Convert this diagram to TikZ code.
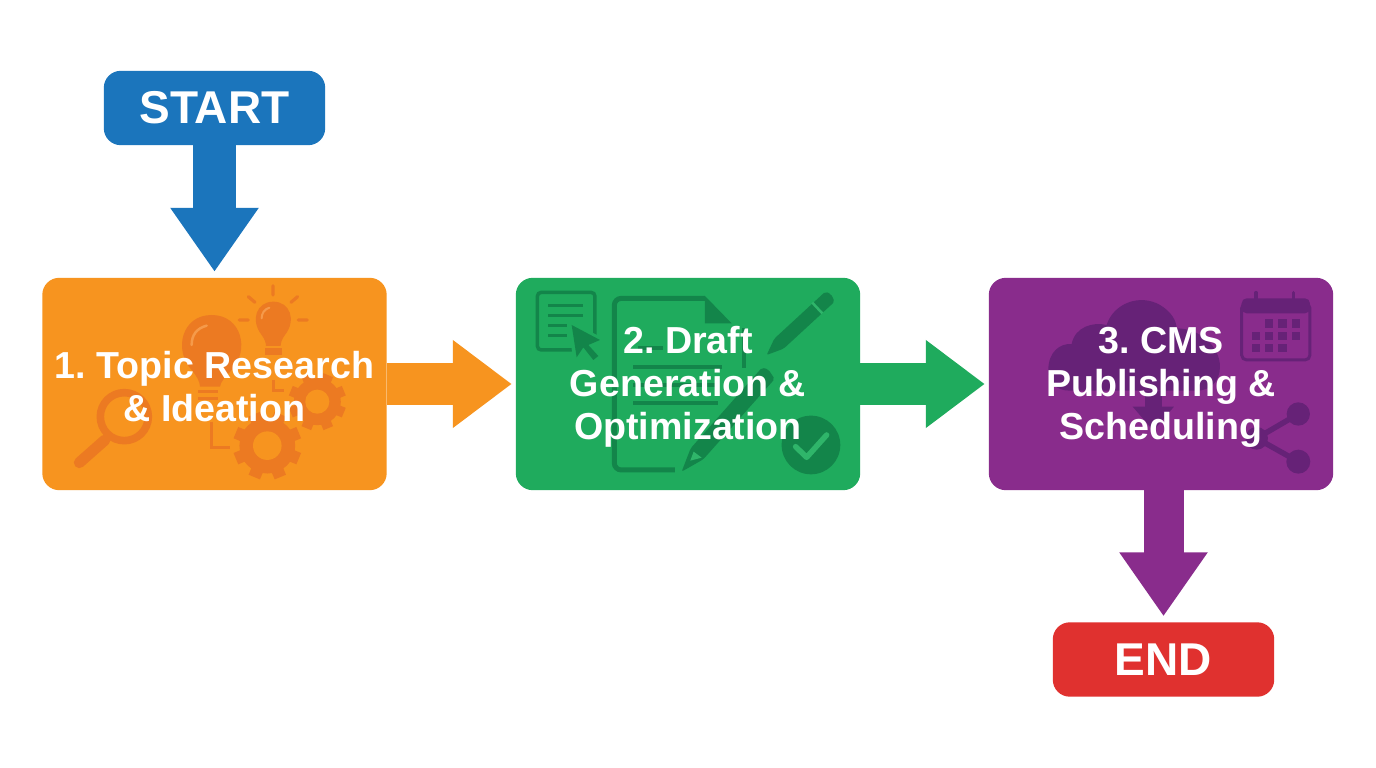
\documentclass[tikz,border=0pt]{standalone}
\usepackage{fontspec}
\setmainfont{Liberation Sans}
\usetikzlibrary{arrows.meta,backgrounds}
\definecolor{cblue}{HTML}{1B75BC}
\definecolor{corange}{HTML}{F7941F}
\definecolor{cgreen}{HTML}{1FAB5D}
\definecolor{cpurple}{HTML}{892C8C}
\definecolor{cred}{HTML}{E0312F}
\definecolor{iorange}{HTML}{EC7A22}
\definecolor{lorange}{HTML}{F59A4A}
\definecolor{igreen}{HTML}{13854A}
\definecolor{lgreen}{HTML}{2FB56A}
\definecolor{ipurple}{HTML}{662277}
\tikzset{
  stepbox/.style={minimum width=344pt,minimum height=212pt,inner sep=0pt,align=center,text=white,
    font=\fontsize{37.6}{43}\selectfont\bfseries\frenchspacing},
  termbox/.style={minimum width=221pt,minimum height=74pt,inner sep=0pt,text=white,
    font=\fontsize{46}{50}\selectfont\bfseries},
  panel/.style={rounded corners=17pt},
  vblock/.style={line width=#1,-{Triangle[length=64pt,width=84pt]}},
  hblock/.style={line width=#1,-{Triangle[length=59pt,width=84pt]}},
  zoomed/.style={x=0.3333pt,y=-0.3333pt}
}
\newcommand{\geardraw}[5]{%
  \foreach \a in {0,45,...,315}{\fill[#5,rotate around={\a+22.5:(#1,#2)}] (#1-#3*0.18,#2-#3) rectangle (#1+#3*0.18,#2);}
  \fill[#5] (#1,#2) circle[radius=#3*0.82];
  \fill[#4] (#1,#2) circle[radius=#3*0.42];}
\begin{document}
\begin{tikzpicture}[x=1pt,y=-1pt]
\useasboundingbox (0,0) rectangle (1376,768);

\node[termbox] (start) at (214.5,108) {START};
\node[termbox] (end) at (1163.5,659.5) {END};
\node[stepbox] (s1) at (214.5,384) {\rule{0pt}{32pt}1. Topic Research\\\& Ideation};
\node[stepbox] (s2) at (688,384) {\rule{0pt}{32pt}2. Draft\\Generation \&\\Optimization};
\node[stepbox] (s3) at (1161,384) {\rule{0pt}{32pt}3. CMS\\Publishing \&\\Scheduling};

\begin{pgfonlayer}{background}
\fill[white] (0,0) rectangle (1376,768);
\fill[cblue,panel] (start.south west) rectangle (start.north east);
\fill[cred,panel] (end.south west) rectangle (end.north east);
\fill[corange,panel] (s1.south west) rectangle (s1.north east);
\fill[cgreen,panel] (s2.south west) rectangle (s2.north east);
\fill[cpurple,panel] (s3.south west) rectangle (s3.north east);

% step 1 icons
\begin{scope}[shift={(30,270)},zoomed]
  \fill[iorange] (485,300) .. controls (430,240) and (455,135) .. (545,135)
     .. controls (635,135) and (660,240) .. (605,300) .. controls (585,322) and (572,335) .. (570,350) -- (510,350) .. controls (510,335) and (500,318) .. (485,300) -- cycle;
  \draw[iorange,line width=3pt] (505,365) -- (565,365) (505,385) -- (565,385);
  \draw[lorange,line width=2.5pt,line cap=round] (485,225) .. controls (485,195) and (500,175) .. (530,167);
  \fill[iorange] (695,195) .. controls (660,150) and (680,95) .. (730,95)
     .. controls (780,95) and (800,150) .. (765,195) .. controls (755,208) and (752,220) .. (752,228) -- (708,228) .. controls (708,220) and (705,208) .. (695,195) -- cycle;
  \fill[iorange] (705,234) rectangle (755,256);
  \draw[lorange,line width=2pt,line cap=round] (695,145) .. controls (695,130) and (703,118) .. (718,113);
  \draw[iorange,line width=3.2pt,line cap=round]
     (729,47) -- (729,75) (655,80) -- (675,97) (803,80) -- (783,97) (628,150) -- (655,150) (805,150) -- (832,150);
  \draw[iorange,line width=3pt] (545,455) -- (545,532) -- (600,532) (730,330) -- (730,362) -- (762,362);
  \draw[iorange,line width=7.6pt] (283,440) circle[radius=72];
  \draw[iorange,line width=11pt,line cap=round] (225,510) -- (148,578);
  \geardraw{862}{395}{86}{corange}{iorange}
  \geardraw{712}{527}{102}{corange}{iorange}
\end{scope}

% step 2 icons
\begin{scope}[shift={(505,270)},zoomed]
  \draw[igreen,line width=3.5pt,rounded corners=4pt] (97,67) rectangle (270,240);
  \draw[igreen,line width=3pt] (130,108) -- (235,108) (130,138) -- (235,138) (130,168) -- (185,168) (130,198) -- (185,198);
  \fill[cgreen] (190,150) -- (305,210) -- (275,280) -- (205,280) -- cycle;
  \fill[igreen] (200,165) -- (285,210) -- (250,225) -- (280,258) -- (265,270) -- (235,232) -- (215,262) -- cycle;
  \draw[igreen,line width=5pt,rounded corners=7pt] (510,600) -- (328,600) -- (328,85) -- (600,85);
  \fill[igreen] (600,78) -- (680,160) -- (600,160) -- cycle;
  \draw[igreen,line width=4pt] (718,175) -- (718,295);
  \draw[igreen,line width=4pt] (400,235) -- (475,235) (385,290) -- (650,290) (385,345) -- (640,345) (385,400) -- (640,400);
  \fill[igreen,rounded corners=2pt] (785,255) -- (808,206) -- (961,65) -- (978,72) -- (989,95) -- (836,236) -- cycle;
  \draw[lgreen,line width=2.5pt] (922,98) -- (952,130);
  \fill[igreen,rounded corners=2pt] (530,605) -- (557,535) -- (771,293) -- (790,298) -- (809,327) -- (595,568) -- cycle;
  \fill[lgreen] (556,572) -- (566,545) -- (590,563) -- cycle;
  \fill[igreen] (918,525) circle[radius=88];
  \draw[lgreen,line width=5.5pt,line cap=round,line join=round] (872,530) -- (905,562) -- (965,495);
\end{scope}

% step 3 icons
\begin{scope}[shift={(980,270)},zoomed]
  \fill[ipurple] (205,300) .. controls (205,245) and (240,220) .. (275,222)
     .. controls (285,170) and (340,155) .. (380,165)
     .. controls (400,100) and (480,70) .. (540,105)
     .. controls (575,125) and (590,155) .. (590,175)
     .. controls (660,175) and (720,230) .. (720,290)
     .. controls (720,335) and (690,362) .. (650,362) -- (270,362)
     .. controls (230,362) and (205,340) .. (205,300) -- cycle;
  \fill[ipurple] (495,362) rectangle (545,412);
  \fill[ipurple] (458,410) -- (582,410) -- (520,482) -- cycle;
  \draw[ipurple,line width=3pt,rounded corners=5pt] (785,100) rectangle (990,270);
  \fill[ipurple,rounded corners=5pt] (785,85) rectangle (990,130);
  \draw[ipurple,line width=3.5pt,line cap=round] (828,68) -- (828,102) (940,68) -- (940,102);
  \foreach \gx/\gy in {855/148,895/148,935/148,815/185,855/185,895/185,935/185,815/222,855/222,895/222}
    {\fill[ipurple] (\gx,\gy) rectangle ++(25,25);}
  \draw[ipurple,line width=5.5pt] (955,432) -- (830,505) -- (955,575);
  \fill[ipurple] (955,432) circle[radius=35] (955,575) circle[radius=36] (830,505) circle[radius=34];
\end{scope}
\end{pgfonlayer}

\draw[cblue,vblock=43pt,shorten >=6pt] (start.south) -- (s1.north);
\draw[corange,hblock=42pt,shorten >=4pt] (s1.east) -- (s2.west);
\draw[cgreen,hblock=42pt,shorten >=4pt] (s2.east) -- (s3.west);
\draw[cpurple,vblock=40pt,shorten >=6pt] (s3.south -| end.north) -- (end.north);
\end{tikzpicture}
\end{document}
